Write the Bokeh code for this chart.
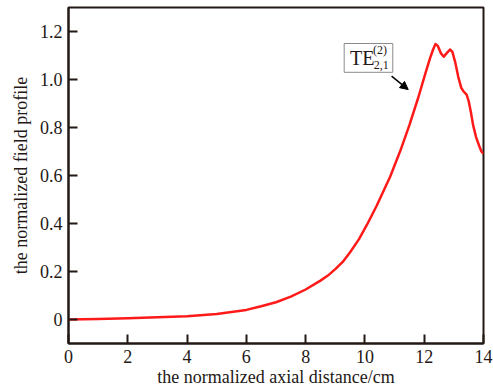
from bokeh.plotting import figure
from bokeh.models import ColumnDataSource, Arrow, NormalHead, FixedTicker
from bokeh.core.properties import value
from bokeh.embed import file_html
from bokeh.resources import INLINE

# data
axial_distance = [0, 1, 2, 3, 4, 5, 6, 6.5, 7, 7.5, 8, 8.5, 8.75, 9, 9.25, 9.5, 9.8, 10.07,
                  10.4, 10.85, 11.2, 11.5, 11.8, 12.05, 12.2, 12.3, 12.38, 12.46, 12.56,
                  12.66, 12.76, 12.87, 12.95, 13.05, 13.15, 13.25, 13.33, 13.43, 13.5,
                  13.58, 13.65, 13.75, 13.85, 13.93, 14.0]
field_profile = [0.0, 0.002, 0.005, 0.009, 0.014, 0.023, 0.04, 0.055, 0.072, 0.095, 0.125,
                 0.162, 0.183, 0.21, 0.24, 0.28, 0.335, 0.395, 0.475, 0.595, 0.705, 0.81,
                 0.925, 1.03, 1.09, 1.125, 1.148, 1.14, 1.11, 1.095, 1.11, 1.125, 1.115,
                 1.07, 1.01, 0.965, 0.95, 0.937, 0.91, 0.86, 0.81, 0.76, 0.725, 0.70, 0.69]
x_ticks = [0, 2, 4, 6, 8, 10, 12, 14]
x_tick_labels = ["0", "2", "4", "6", "8", "10", "12", "14"]
y_ticks = [0, 0.2, 0.4, 0.6, 0.8, 1.0, 1.2]
y_tick_labels = ["0", "0.2", "0.4", "0.6", "0.8", "1.0", "1.2"]
mode_label = "TE"
mode_sup = "(2)"
mode_sub = "2,1"

FONT = "Liberation Serif"
TXT = "#231815"

p = figure(width=493, height=390, x_range=(0, 14), y_range=(-0.1, 1.3),
           output_backend="svg", toolbar_location=None,
           min_border_left=68, min_border_right=10, min_border_top=7, min_border_bottom=47)
p.grid.visible = False
p.background_fill_color = "white"
p.border_fill_color = "white"
p.outline_line_color = TXT
p.outline_line_width = 2

src = ColumnDataSource(dict(x=axial_distance, y=field_profile))
p.line("x", "y", source=src, line_color="#ff1a1a", line_width=2.5, line_join="round")

for ax in (p.xaxis[0], p.yaxis[0]):
    ax.axis_line_color = TXT
    ax.axis_line_width = 2
    ax.major_tick_line_color = TXT
    ax.major_tick_line_width = 2
    ax.major_tick_in = 9
    ax.major_tick_out = 0
    ax.minor_tick_line_color = None
    ax.major_label_text_font = FONT
    ax.major_label_text_font_size = "18px"
    ax.major_label_text_color = TXT
    ax.axis_label_text_font = FONT
    ax.axis_label_text_font_size = "18px"
    ax.axis_label_text_font_style = "normal"
    ax.axis_label_text_color = TXT

p.xaxis.ticker = FixedTicker(ticks=x_ticks)
p.yaxis.ticker = FixedTicker(ticks=y_ticks)
p.xaxis.major_label_overrides = {t: l for t, l in zip(x_ticks, x_tick_labels)}
p.yaxis.major_label_overrides = {t: l for t, l in zip(y_ticks, y_tick_labels)}
p.xaxis.major_label_standoff = 6
p.yaxis.major_label_standoff = 6
p.xaxis.axis_label = "the normalized axial distance/cm"
p.yaxis.axis_label = "the normalized field profile"
p.xaxis.axis_label_standoff = 1
p.yaxis.axis_label_standoff = 6

# annotation box
p.quad(left=[9.30], right=[10.94], bottom=[1.03], top=[1.15],
       fill_color="white", line_color="#8a8a8a", line_width=1)
p.text(x=[9.50], y=[1.088], text=[mode_label], text_font=value(FONT), text_font_size="20px",
       text_color=TXT, text_baseline="middle", text_align="left")
p.text(x=[10.27], y=[1.125], text=[mode_sup], text_font=value(FONT), text_font_size="12px",
       text_color=TXT, text_baseline="middle", text_align="left")
p.text(x=[10.30], y=[1.06], text=[mode_sub], text_font=value(FONT), text_font_size="12px",
       text_color=TXT, text_baseline="middle", text_align="left")
p.add_layout(Arrow(end=NormalHead(size=8, fill_color="black", line_color="black"),
                   x_start=10.9, y_start=1.014, x_end=11.46, y_end=0.958,
                   line_color="black", line_width=1.5))

open("out.html", "w").write(file_html(p, INLINE))
